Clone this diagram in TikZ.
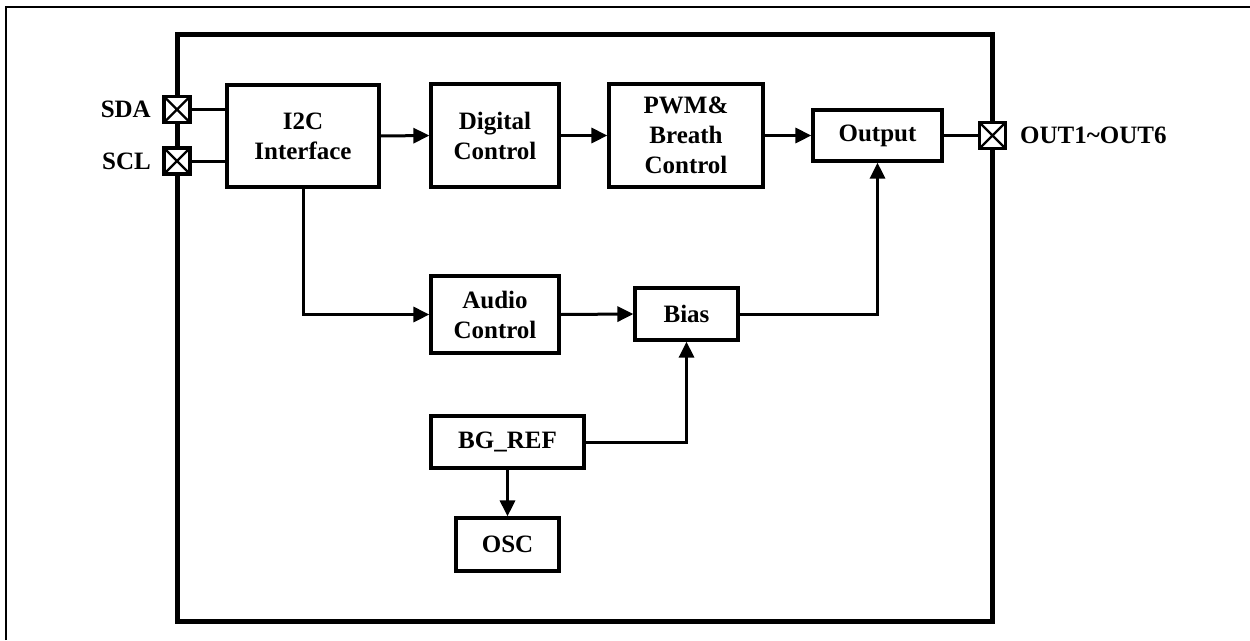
\documentclass[tikz,border=0pt]{standalone}
\usepackage{fontspec}
\setmainfont{Liberation Serif}
\usetikzlibrary{arrows.meta}
\begin{document}
\begin{tikzpicture}[x=1pt,y=-1pt,
  blk/.style={draw=black,line width=3.2pt,fill=white,inner sep=0pt,align=center,
    font=\fontsize{25}{30}\selectfont\bfseries},
  wire/.style={line width=3pt},
  arr/.style={line width=3pt,-{Triangle[length=16pt,width=15pt]}},
  pin/.style={draw=black,line width=3.4pt,fill=white,minimum width=26pt,minimum height=26pt,inner sep=0pt,
    path picture={\draw[line width=2.4pt] (path picture bounding box.south west)--(path picture bounding box.north east)
      (path picture bounding box.north west)--(path picture bounding box.south east);}},
  lbl/.style={inner sep=0pt,font=\fontsize{25}{30}\selectfont\bfseries}]
\useasboundingbox (0,0) rectangle (1250,640);
% outer frame (only top and left visible)
\draw[line width=2pt] (6,640) -- (6,7) -- (1250,7);
% chip border
\draw[line width=5pt] (177,34) rectangle (992,621);
% blocks
\node[blk,minimum width=152pt,minimum height=102pt] (i2c) at (303,136) {I2C\\Interface};
\node[blk,minimum width=128pt,minimum height=103pt] (dig) at (495,135.5) {Digital\\Control};
\node[blk,minimum width=154pt,minimum height=103pt] (pwm) at (686,135.5) {PWM\&\\Breath\\Control};
\node[blk,minimum width=129pt,minimum height=51pt] (out) at (877.5,135.5) {Output};
\node[blk,minimum width=128pt,minimum height=77pt] (aud) at (495,314.5) {Audio\\Control};
\node[blk,minimum width=103pt,minimum height=52pt] (bias) at (686.5,314) {Bias};
\node[blk,minimum width=153pt,minimum height=52pt] (bg) at (507.5,442) {BG\_REF};
\node[blk,minimum width=103pt,minimum height=53pt] (osc) at (507.5,544.5) {OSC};
% pins
\node[pin] (sda) at (177,109.5) {};
\node[pin] (scl) at (177,161) {};
\node[pin] (op) at (992.5,135.5) {};
\node[lbl,anchor=east] (sdal) at (151,109.5) {SDA};
\node[lbl,anchor=east] (scll) at (151,161) {SCL};
\node[lbl,anchor=west] (opl) at (1020,135.5) {OUT1\textasciitilde OUT6};
% wires
\draw[wire] (sda.east) -- (sda.east -| i2c.west);
\draw[wire] (scl.east) -- (scl.east -| i2c.west);
\draw[wire] (out.east) -- (op.west);
\draw[arr] (i2c.east) -- (dig.west);
\draw[arr] (dig.east) -- (pwm.west);
\draw[arr] (pwm.east) -- (out.west);
\draw[arr] (i2c.south) |- (aud.west);
\draw[arr] (aud.east) -- (bias.west);
\draw[arr] (bias.east) -| (out.south);
\draw[arr] (bg.east) -| (bias.south);
\draw[arr] (bg.south) -- (osc.north);
\end{tikzpicture}
\end{document}
